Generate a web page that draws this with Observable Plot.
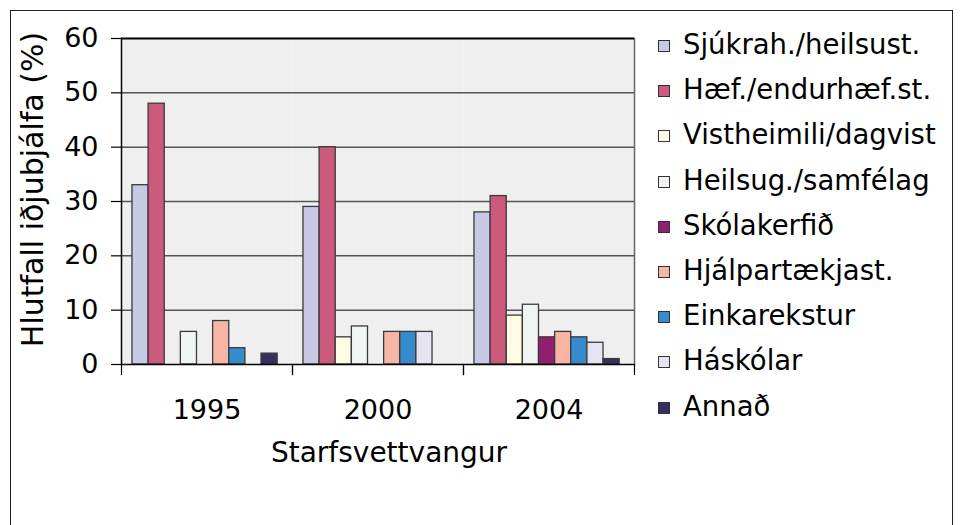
<!DOCTYPE html>
<html>
<head>
<meta charset="utf-8">
<script src="https://cdn.jsdelivr.net/npm/d3@7"></script>
<script src="https://cdn.jsdelivr.net/npm/@observablehq/plot@0.6"></script>
<style>
  body { margin: 0; background: #fff; }
  #wrap { position: relative; width: 960px; height: 525px; overflow: hidden; font-family: "DejaVu Sans", sans-serif; }
  #border { position: absolute; left: 10px; top: 10px; width: 943px; height: 600px; border: 1.5px solid #222; box-sizing: border-box; }
  #chart { position: absolute; left: 0; top: 0; }
  .sw { position: absolute; width: 12px; height: 12px; box-sizing: border-box; border: 1px solid #333; }
  .lt { position: absolute; font-size: 27.5px; line-height: 40px; height: 40px; white-space: nowrap; color: #000; }
</style>
</head>
<body>
<div id="wrap">
  <div id="border"></div>
  <div id="chart"></div>
  <div id="legend"></div>
</div>
<script>
const years = ["1995", "2000", "2004"];
const series = [
  "Sjúkrah./heilsust.",
  "Hæf./endurhæf.st.",
  "Vistheimili/dagvist",
  "Heilsug./samfélag",
  "Skólakerfið",
  "Hjálpartækjast.",
  "Einkarekstur",
  "Háskólar",
  "Annað"
];
const colors = ["#c8c9e5", "#cb5a7d", "#fffbe5", "#eef5f2", "#901f6f", "#f7b6a4", "#358bcb", "#e5e4f0", "#3b2d5f"];
const values1995 = [33, 48, null, 6, null, 8, 3, null, 2];
const values2000 = [29, 40, 5, 7, null, 6, 6, 6, null];
const values2004 = [28, 31, 9, 11, 5, 6, 5, 4, 1];
const yTicks = [0, 10, 20, 30, 40, 50, 60];
const yTitle = "Hlutfall iðjubjálfa (%)";
const xTitle = "Starfsvettvangur";

const byYear = [values1995, values2000, values2004];
const data = [];
years.forEach((yr, i) => series.forEach((s, j) => {
  if (byYear[i][j] != null) data.push({year: yr, series: s, value: byYear[i][j]});
}));

const H = 525, MT = 38, MB = 161;
const innerH = H - MT - MB;

const chart = Plot.plot({
  width: 960,
  height: H,
  marginLeft: 120,
  marginRight: 326,
  marginTop: MT,
  marginBottom: MB,
  style: { fontFamily: "DejaVu Sans", fontSize: "27px", background: "transparent", color: "#000", overflow: "visible" },
  fx: { domain: years, padding: 0, label: null, axis: null },
  x: { domain: series, paddingInner: 0, paddingOuter: 0.8, align: 0.425, round: false, axis: null },
  y: { domain: [0, 60], label: null, axis: null },
  color: { domain: series, range: colors },
  marks: [
    Plot.frame({ fill: "#efefef", stroke: null }),
    Plot.gridY(yTicks.filter(t => t > 0 && t < 60), { stroke: "#555", strokeOpacity: 1, strokeWidth: 1.5 }),
    Plot.frame({ facet: "super", anchor: "right", stroke: "#666", strokeWidth: 1.5 }),
    Plot.barY(data, { fx: "year", x: "series", y: "value", fill: "series", stroke: "#3a3a3a", strokeWidth: 1.3 }),
    Plot.ruleY([60], { stroke: "#000", strokeWidth: 2 }),
    Plot.ruleY([0], { stroke: "#000", strokeWidth: 1.5 }),
    Plot.frame({ facet: "super", anchor: "left", stroke: "#000", strokeWidth: 1.5 }),
    Plot.frame({ anchor: "left", insetTop: innerH, insetBottom: -10, stroke: "#000", strokeWidth: 1.2 }),
    Plot.frame({ anchor: "right", insetTop: innerH, insetBottom: -10, stroke: "#000", strokeWidth: 1.2 }),
    Plot.axisY({ ticks: yTicks, tickSize: 10, tickPadding: 13, strokeWidth: 1.2, fontSize: 27 }),
    Plot.axisFx({ anchor: "bottom", tickSize: 0, tickPadding: 35, label: null, fontSize: 27 }),
    Plot.text([xTitle], { facet: "super", frameAnchor: "bottom", textAnchor: "middle", dx: 11, dy: 89, lineAnchor: "middle", fontSize: 28 }),
    Plot.text([yTitle], { facet: "super", frameAnchor: "left", textAnchor: "middle", rotate: -90, dx: -88, dy: -12, lineAnchor: "middle", fontSize: 30 })
  ]
});
document.getElementById("chart").appendChild(chart);

const legend = document.getElementById("legend");
series.forEach((s, i) => {
  const cy = 44 + 45.2 * i;
  const sw = document.createElement("div");
  sw.className = "sw";
  sw.style.left = "658px";
  sw.style.top = (cy + 2 - 6) + "px";
  sw.style.background = colors[i];
  legend.appendChild(sw);
  const t = document.createElement("div");
  t.className = "lt";
  t.style.left = "683px";
  t.style.top = (cy - 20) + "px";
  t.textContent = s;
  legend.appendChild(t);
});
</script>
</body>
</html>
